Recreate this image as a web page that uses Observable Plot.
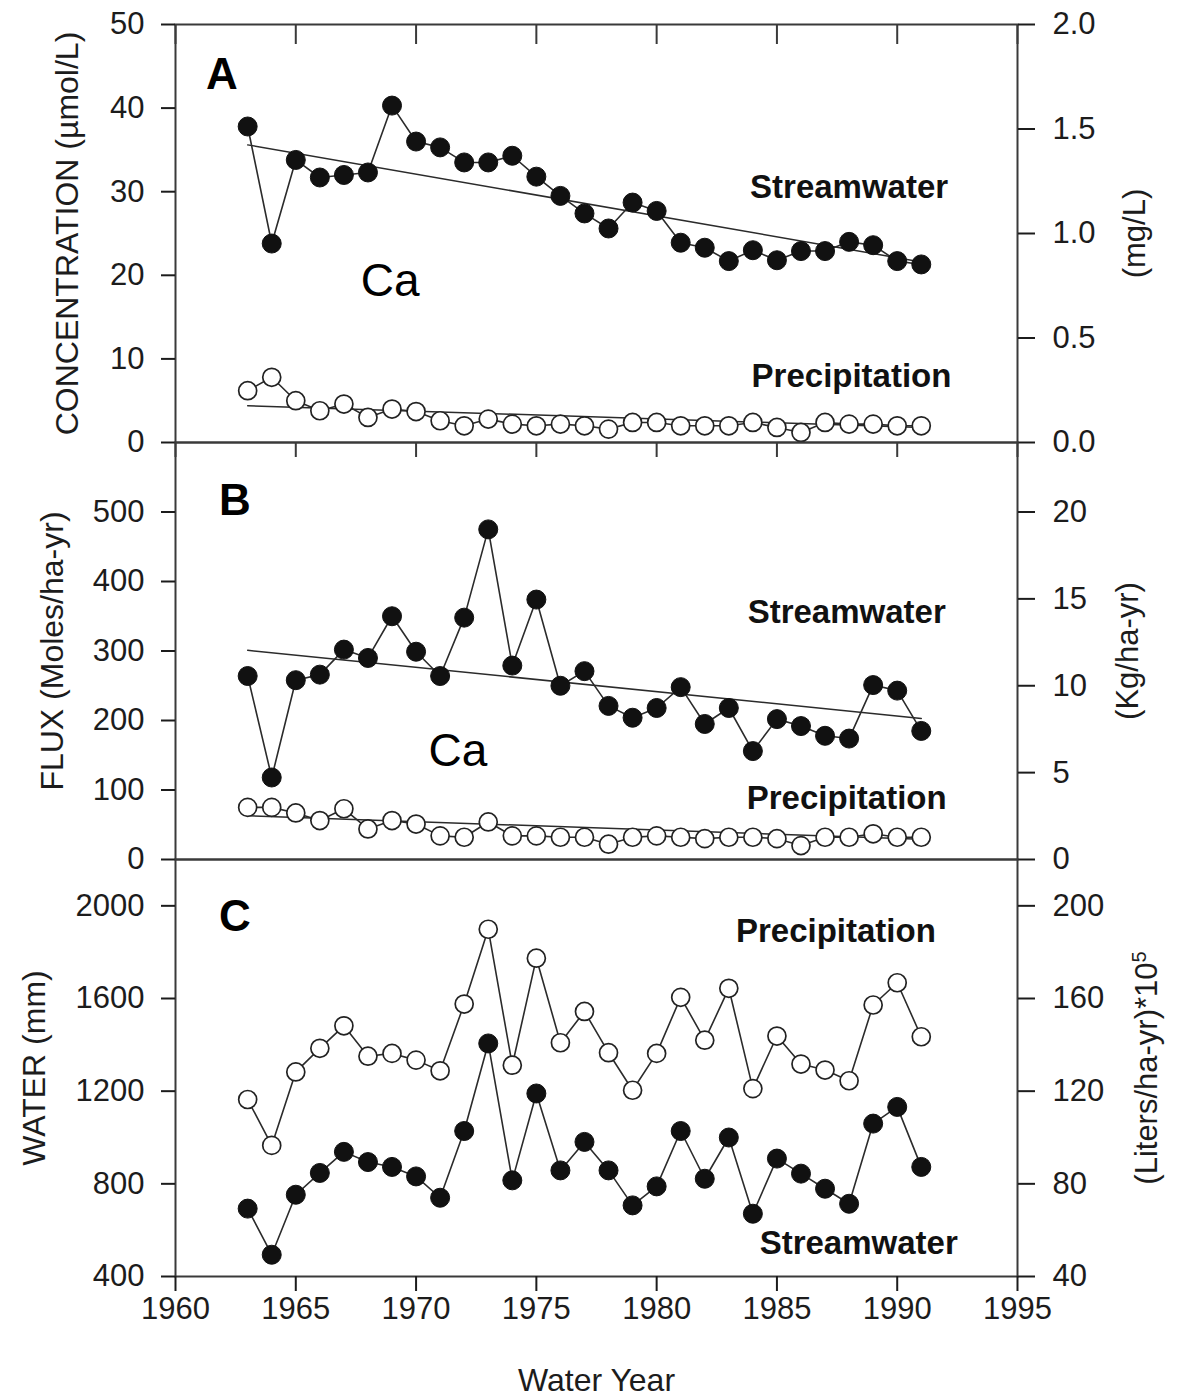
<!DOCTYPE html>
<html><head><meta charset="utf-8">
<script src="https://cdn.jsdelivr.net/npm/d3@7"></script>
<script src="https://cdn.jsdelivr.net/npm/@observablehq/plot@0.6"></script>
<style>
body{margin:0;background:#fff;}
#chart{position:relative;width:1177px;height:1398px;background:#fff;}
#chart svg{position:absolute;left:0;}
</style></head><body><div id="chart"></div>
<script>
// ---------- data ----------
const years = [1963,1964,1965,1966,1967,1968,1969,1970,1971,1972,1973,1974,1975,1976,1977,
               1978,1979,1980,1981,1982,1983,1984,1985,1986,1987,1988,1989,1990,1991];
// Panel A: Ca concentration (µmol/L)
const caStreamConc = [37.8,23.8,33.8,31.7,32.0,32.3,40.3,36.0,35.3,33.5,33.5,34.3,31.8,29.5,27.4,
                      25.6,28.7,27.7,23.9,23.3,21.7,23.0,21.8,22.9,22.9,24.0,23.6,21.7,21.3];
const caPrecipConc = [6.2,7.8,5.0,3.8,4.6,3.0,4.0,3.7,2.6,2.0,2.8,2.2,2.0,2.2,2.0,
                      1.6,2.4,2.4,2.0,2.0,2.0,2.4,1.8,1.2,2.4,2.2,2.2,2.0,2.0];
// Panel B: Ca flux (Moles/ha-yr)
const caStreamFlux = [264,118,258,266,302,290,350,299,264,348,475,279,374,250,271,
                      221,204,218,248,195,218,156,202,192,178,174,251,243,185];
const caPrecipFlux = [75,75,67,56,73,44,56,51,34,32,54,34,34,32,32,
                      22,32,34,32,30,32,32,30,20,32,32,37,32,32];
// Panel C: water (mm)
const waterPrecip = [1164,966,1283,1385,1482,1351,1363,1334,1288,1576,1899,1312,1774,1409,1544,
                     1366,1204,1363,1605,1420,1644,1211,1438,1317,1291,1245,1572,1668,1435];
const waterStream = [693,494,753,847,938,894,873,832,740,1028,1406,815,1190,858,981,
                     858,707,789,1028,822,1000,671,909,844,779,714,1060,1132,873];
// trend lines (end points)
const trendYears = [1963, 1991];
const trendStreamConc = [35.6, 21.6];
const trendPrecipConc = [4.4, 1.8];
const trendStreamFlux = [301, 203];
const trendPrecipFlux = [63, 29];
// ticks
const xTicks = [1960,1965,1970,1975,1980,1985,1990,1995];
const concTicks = [0,10,20,30,40,50];
const mgTicks = [0.0,0.5,1.0,1.5,2.0];
const fluxTicks = [0,100,200,300,400,500];
const kgTicks = [0,5,10,15,20];
const waterTicks = [400,800,1200,1600,2000];
const literTicks = [40,80,120,160,200];
// unit conversions for right-hand axes
const mgToUmol = 25, kgToMol = 25, litersToMm = 10;

// ---------- drawing ----------
const font = "'Liberation Sans', Arial, Helvetica, sans-serif";
const ink = "#1c1c1c";
const lineInk = "#2b2b2b";
const frameInk = "#3a3a3a";
const rows = vals => years.map((year, i) => ({year, value: vals[i]}));
const trendRows = vals => trendYears.map((year, i) => ({year, value: vals[i]}));

function panel(cfg) {
  const plotH = cfg.height - cfg.mt - cfg.mb;
  const marks = [];
  marks.push(Plot.frame({stroke: frameInk, strokeWidth: 2}));
  if (cfg.topTickLen) marks.push(Plot.ruleX(xTicks, {x: d => d, insetBottom: plotH - cfg.topTickLen, stroke: frameInk, strokeWidth: 2}));
  marks.push(Plot.axisY({anchor: "left", ticks: cfg.leftTicks, tickFormat: d => String(d), tickSize: 14, tickPadding: 17,
    label: null, fontSize: 31, color: ink, strokeWidth: 2}));
  marks.push(Plot.axisY({anchor: "right", ticks: cfg.rightTicks.map(v => v * cfg.rightFactor),
    tickFormat: d => cfg.rightFmt(d / cfg.rightFactor), tickSize: 17, tickPadding: 18,
    label: null, fontSize: 31, color: ink, strokeWidth: 2}));
  if (cfg.bottomAxis) {
    marks.push(Plot.axisX({anchor: "bottom", ticks: xTicks, tickFormat: d => String(d), tickSize: 15, tickPadding: 5,
      label: null, fontSize: 31, color: ink, strokeWidth: 2}));
    marks.push(Plot.text(["Water Year"], {frameAnchor: "bottom", dy: 114, lineAnchor: "bottom", textAnchor: "middle",
      text: d => d, fontSize: 32, fill: ink, fontFamily: font}));
  }
  marks.push(Plot.text([cfg.leftTitle], {frameAnchor: "left", dx: cfg.leftDx, rotate: -90, text: d => d,
    textAnchor: "middle", lineAnchor: "middle", fontSize: 32, fill: ink, fontFamily: font}));
  marks.push(Plot.text([cfg.rightTitle], {frameAnchor: "right", dx: cfg.rightDx, rotate: -90, text: d => d,
    textAnchor: "middle", lineAnchor: "middle", fontSize: 31, fill: ink, fontFamily: font}));
  for (const t of cfg.trends) {
    marks.push(Plot.line(t, {x: "year", y: "value", stroke: lineInk, strokeWidth: 1.5}));
  }
  for (const s of cfg.series) {
    marks.push(Plot.line(s.data, {x: "year", y: "value", stroke: lineInk, strokeWidth: 1.6}));
    if (s.open) marks.push(Plot.dot(s.data, {x: "year", y: "value", r: 9, fill: "white", stroke: "#222", strokeWidth: 1.7}));
    else marks.push(Plot.dot(s.data, {x: "year", y: "value", r: 9.5, fill: "#111", stroke: "#111", strokeWidth: 1}));
  }
  for (const l of cfg.labels) {
    const st = l.kind === "panel" ? {fontSize: 44, fontWeight: "bold", textAnchor: "start", fill: "#000"}
             : l.kind === "element" ? {fontSize: 46, fontWeight: "normal", textAnchor: "middle", fill: "#000"}
             : {fontSize: 33, fontWeight: "bold", textAnchor: "middle", fill: "#111"};
    marks.push(Plot.text([l], {x: "year", y: "value", text: "text", lineAnchor: "bottom", fontFamily: font, ...st}));
  }
  const svg = Plot.plot({
    width: 1177, height: cfg.height,
    marginLeft: 175, marginRight: 160, marginTop: cfg.mt, marginBottom: cfg.mb,
    x: {domain: [1960, 1995], axis: null, label: null},
    y: {domain: cfg.yDomain, axis: null, label: null},
    style: {fontFamily: font, fontSize: "31px", color: ink, background: "transparent", overflow: "visible"},
    marks
  });
  svg.style.top = cfg.top + "px";
  svg.style.position = "absolute";
  return svg;
}

const chart = document.getElementById("chart");

chart.append(panel({
  top: 0, height: 442, mt: 24, mb: 0, yDomain: [0, 50], topTickLen: 20,
  leftTicks: concTicks, rightTicks: mgTicks, rightFactor: mgToUmol, rightFmt: v => v.toFixed(1),
  leftTitle: "CONCENTRATION (µmol/L)", leftDx: -108, rightTitle: "(mg/L)", rightDx: 118,
  trends: [trendRows(trendStreamConc), trendRows(trendPrecipConc)],
  series: [{data: rows(caStreamConc), open: false}, {data: rows(caPrecipConc), open: true}],
  labels: [
    {text: "A", year: 1961.27, value: 42.3, kind: "panel"},
    {text: "Ca", year: 1968.92, value: 17.5, kind: "element"},
    {text: "Streamwater", year: 1988.0, value: 29.3, kind: "series"},
    {text: "Precipitation", year: 1988.1, value: 6.6, kind: "series"}
  ]
}));

chart.append(panel({
  top: 442, height: 417, mt: 0, mb: 0, yDomain: [0, 600], topTickLen: 15,
  leftTicks: fluxTicks, rightTicks: kgTicks, rightFactor: kgToMol, rightFmt: v => String(Math.round(v)),
  leftTitle: "FLUX (Moles/ha-yr)", leftDx: -123, rightTitle: "(Kg/ha-yr)", rightDx: 111,
  trends: [trendRows(trendStreamFlux), trendRows(trendPrecipFlux)],
  series: [{data: rows(caStreamFlux), open: false}, {data: rows(caPrecipFlux), open: true}],
  labels: [
    {text: "B", year: 1961.81, value: 496, kind: "panel"},
    {text: "Ca", year: 1971.74, value: 135, kind: "element"},
    {text: "Streamwater", year: 1987.9, value: 340, kind: "series"},
    {text: "Precipitation", year: 1987.9, value: 73, kind: "series"}
  ]
}));

chart.append(panel({
  top: 859, height: 539, mt: 0, mb: 122, yDomain: [400, 2200], topTickLen: 0, bottomAxis: true,
  leftTicks: waterTicks, rightTicks: literTicks, rightFactor: litersToMm, rightFmt: v => String(Math.round(v)),
  leftTitle: "WATER (mm)", leftDx: -141, rightTitle: "(Liters/ha-yr)*10", rightDx: 130,
  trends: [],
  series: [{data: rows(waterPrecip), open: true}, {data: rows(waterStream), open: false}],
  labels: [
    {text: "C", year: 1961.81, value: 1893, kind: "panel"},
    {text: "Precipitation", year: 1987.45, value: 1842, kind: "series"},
    {text: "Streamwater", year: 1988.4, value: 495, kind: "series"}
  ]
}));

// superscript exponent on the right-hand title of panel C
d3.select(chart).selectAll("text").filter(function() { return this.textContent === "(Liters/ha-yr)*10"; })
  .each(function() {
    d3.select(this).append("tspan").attr("dy", "-0.55em").attr("font-size", "20px").text("5");
  });
</script></body></html>
